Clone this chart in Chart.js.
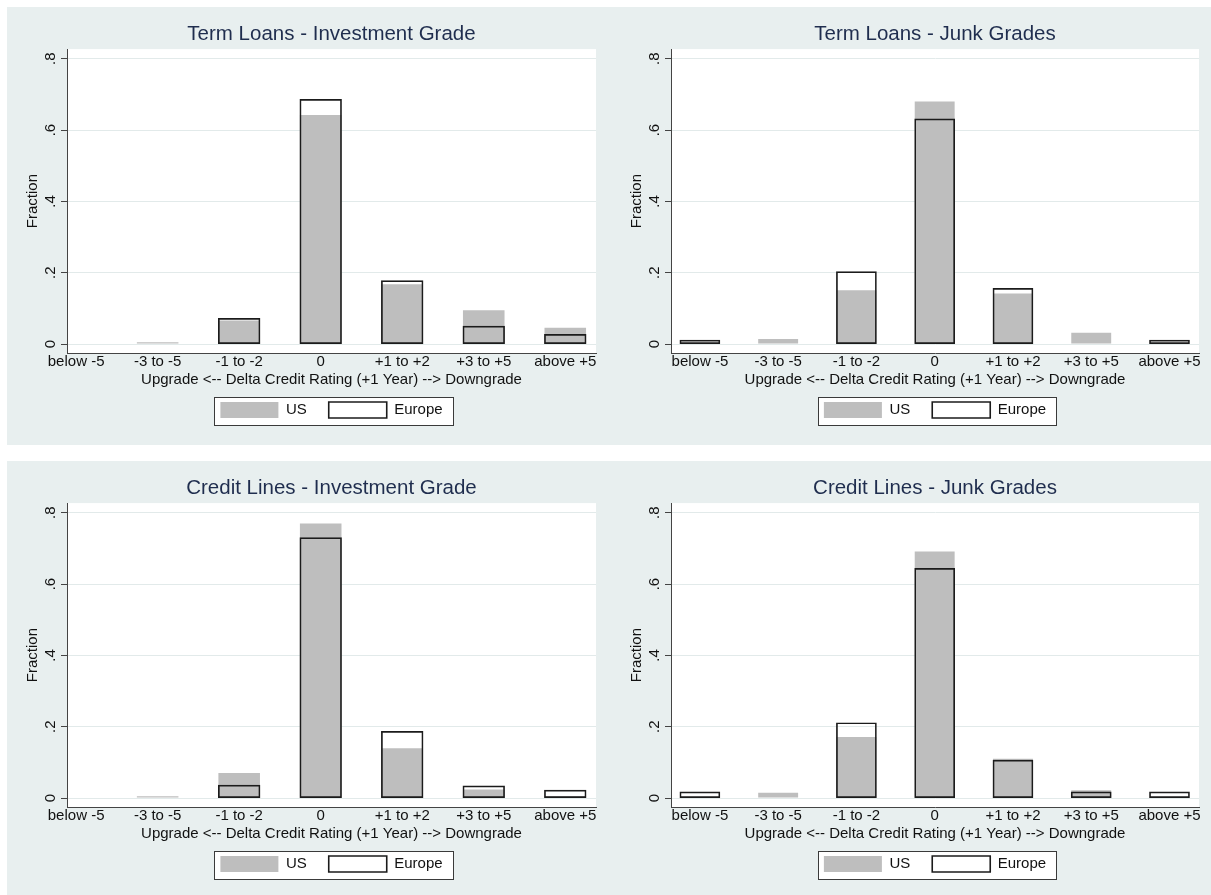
<!DOCTYPE html>
<html lang="en">
  <head>
    <meta charset="UTF-8" />
    <title>Delta Credit Rating (+1 Year)</title>
    <script src="https://cdn.jsdelivr.net/npm/chart.js"></script>
    <style>
      html,
      body {
        margin: 0;
        padding: 0;
        background: #fff;
        overflow: hidden;
      }
      .band {
        position: absolute;
        left: 7px;
        right: 0;
        background: #e8efef;
      }
      canvas {
        position: absolute;
      }
    </style>
  </head>
  <body>
    <div class="band" style="top: 7px; height: 438px"></div>
    <div class="band" style="top: 461px; height: 434px"></div>

    <canvas id="termIG" width="598" height="438" style="left: 7px; top: 7px"></canvas>
    <canvas id="termJunk" width="600" height="438" style="left: 611px; top: 7px"></canvas>
    <canvas id="lineIG" width="598" height="438" style="left: 7px; top: 461px"></canvas>
    <canvas id="lineJunk" width="600" height="438" style="left: 611px; top: 461px"></canvas>

    <script>
      const categories = [
        "below -5",
        "-3 to -5",
        "-1 to -2",
        "0",
        "+1 to +2",
        "+3 to +5",
        "above +5",
      ];
      const yTickValues = [0, 0.2, 0.4, 0.6, 0.8];
      const yTickLabels = ["0", ".2", ".4", ".6", ".8"];

      // fraction of ratings moves per bucket
      const termIgUS = [0, 0.005, 0.066, 0.642, 0.168, 0.095, 0.046];
      const termIgEurope = [0, 0, 0.072, 0.686, 0.178, 0.05, 0.027];
      const termJunkUS = [0, 0.014, 0.151, 0.68, 0.142, 0.032, 0];
      const termJunkEurope = [0.011, 0, 0.203, 0.631, 0.156, 0, 0.011];
      const lineIgUS = [0, 0.005, 0.07, 0.77, 0.14, 0.024, 0.005];
      const lineIgEurope = [0, 0, 0.036, 0.73, 0.187, 0.034, 0.022];
      const lineJunkUS = [0, 0.015, 0.171, 0.691, 0.11, 0.022, 0];
      const lineJunkEurope = [0.017, 0, 0.211, 0.644, 0.106, 0.017, 0.017];

      const xTitle = "Upgrade <-- Delta Credit Rating (+1 Year) --> Downgrade";
      const textColor = "#111";
      const axisColor = "#444";
      const gridColor = "#e2eaea";
      const usGray = "#bebebe";

      Chart.defaults.font.family = '"Liberation Sans", Arial, Helvetica, sans-serif';

      // white plot region plus the framed legend box
      const panelBackground = {
        id: "panelBackground",
        beforeDraw(chart) {
          const { ctx, chartArea: a, legend } = chart;
          ctx.save();
          ctx.fillStyle = "#fff";
          ctx.fillRect(a.left, a.top, a.right - a.left, a.bottom - a.top);
          const boxes = legend && legend.legendHitBoxes;
          if (boxes && boxes.length) {
            const l = Math.round(Math.min(...boxes.map((b) => b.left)) - 6);
            const r = Math.round(Math.max(...boxes.map((b) => b.left + b.width)) + 10);
            const t = Math.round(boxes[0].top - 5);
            const btm = Math.round(boxes[0].top + boxes[0].height + 7);
            ctx.fillRect(l, t, r - l, btm - t);
            ctx.strokeStyle = "#3a3a3a";
            ctx.lineWidth = 1;
            ctx.strokeRect(l + 0.5, t + 0.5, r - l, btm - t);
          }
          ctx.restore();
        },
      };

      // legend swatches: keep the Europe outline as heavy as the bar outline looks
      function legendLabels(chart) {
        return Chart.defaults.plugins.legend.labels
          .generateLabels(chart)
          .map((item) => ({ ...item, lineWidth: item.datasetIndex === 1 ? 1.6 : 0 }));
      }

      function toPoints(values) {
        return values.map((v, i) => ({ x: i, y: v }));
      }

      function makeChart(id, title, us, europe, xMin, padRight) {
        return new Chart(document.getElementById(id), {
          type: "bar",
          data: {
            datasets: [
              {
                label: "US",
                data: toPoints(us),
                backgroundColor: usGray,
                borderWidth: 0,
                inflateAmount: 0,
                order: 1,
              },
              {
                // outline straddles the bar edge a little, like a centred stroke
                label: "Europe",
                data: toPoints(europe),
                backgroundColor: "rgba(255,255,255,0)",
                borderColor: "#1b1b1b",
                borderWidth: 0.9,
                inflateAmount: 0.4,
                borderSkipped: false,
                order: 0,
              },
            ],
          },
          options: {
            responsive: false,
            animation: false,
            layout: { padding: { left: 0, right: padRight, top: 0, bottom: 17 } },
            datasets: {
              bar: {
                grouped: false,
                categoryPercentage: 1,
                barPercentage: 0.51,
              },
            },
            scales: {
              x: {
                type: "linear",
                offset: false,
                min: xMin,
                max: 6.377,
                afterBuildTicks: (s) => {
                  s.ticks = categories.map((c, i) => ({ value: i }));
                },
                afterFit: (s) => {
                  s.height = 27;
                },
                grid: { display: false, drawTicks: false },
                border: { display: true, color: axisColor, width: 1 },
                ticks: {
                  autoSkip: false,
                  maxRotation: 0,
                  padding: 0,
                  color: textColor,
                  font: { size: 15 },
                  callback: (v) => categories[v],
                },
                title: {
                  display: true,
                  text: xTitle,
                  color: textColor,
                  font: { size: 15 },
                  padding: { top: 0, bottom: -9 },
                },
              },
              y: {
                min: -0.025,
                max: 0.827,
                afterBuildTicks: (s) => {
                  s.ticks = yTickValues.map((v) => ({ value: v }));
                },
                afterFit: (s) => {
                  s.width = 60;
                },
                grid: { color: gridColor, tickColor: axisColor, tickLength: 6 },
                border: { display: true, color: axisColor, width: 1 },
                ticks: {
                  minRotation: 90,
                  maxRotation: 90,
                  crossAlign: "center",
                  padding: 4,
                  color: textColor,
                  font: { size: 15 },
                  callback: (v) => yTickLabels[yTickValues.indexOf(v)],
                },
                title: {
                  display: true,
                  text: "Fraction",
                  color: textColor,
                  font: { size: 15 },
                  padding: { top: 17, bottom: 0 },
                },
              },
            },
            plugins: {
              title: {
                display: true,
                text: title,
                fullSize: false,
                color: "#1f2d4e",
                font: { size: 20.5, weight: "normal" },
                padding: { top: 15, bottom: 2.5 },
              },
              legend: {
                position: "bottom",
                fullSize: false,
                labels: {
                  boxWidth: 58,
                  boxHeight: 16,
                  padding: 22,
                  color: textColor,
                  font: { size: 15 },
                  generateLabels: legendLabels,
                  sort: (a, b) => a.datasetIndex - b.datasetIndex,
                },
              },
              tooltip: { enabled: false },
            },
          },
          plugins: [panelBackground],
        });
      }

      makeChart("termIG", "Term Loans - Investment Grade", termIgUS, termIgEurope, -0.112, 9);
      makeChart("termJunk", "Term Loans - Junk Grades", termJunkUS, termJunkEurope, -0.369, 12);
      makeChart("lineIG", "Credit Lines - Investment Grade", lineIgUS, lineIgEurope, -0.112, 9);
      makeChart("lineJunk", "Credit Lines - Junk Grades", lineJunkUS, lineJunkEurope, -0.369, 12);
    </script>
  </body>
</html>
